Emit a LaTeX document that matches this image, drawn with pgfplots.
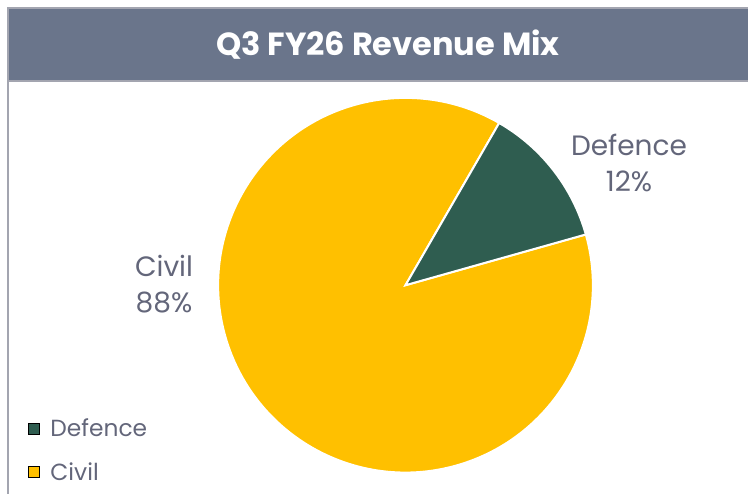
\documentclass[border=0pt]{standalone}
\usepackage{fontspec}
\setmainfont{Poppins}
\usepackage{pgfplots}
\usepackage{pgfplotstable}
\pgfplotsset{compat=1.18}

\definecolor{titlebg}{HTML}{6A758B}
\definecolor{framegray}{HTML}{A3A5B0}
\definecolor{defgreen}{HTML}{2F5D50}
\definecolor{civilyellow}{HTML}{FFC000}
\definecolor{labelgray}{HTML}{63667A}

% revenue share, percent
\pgfplotstableread{
label   value
Defence 12.3
Civil   87.7
}\piedata

\begin{document}
\begin{tikzpicture}
\pgfplotstablegetelem{0}{value}\of\piedata \let\vDef\pgfplotsretval
\pgfplotstablegetelem{1}{value}\of\piedata \let\vCiv\pgfplotsretval
% first slice starts at 60 deg and runs clockwise
\pgfmathsetmacro\aStart{60}
\pgfmathsetmacro\aMid{\aStart-3.6*\vDef}
\pgfmathsetmacro\aEnd{\aMid-3.6*\vCiv}
\def\R{140.5pt}
\begin{axis}[
    name=ax,
    width=561pt, height=370.5pt, scale only axis,
    xmin=0, xmax=748, ymin=0, ymax=494, y dir=reverse,
    hide axis, clip=false,
    legend style={at={(axis cs:24,413)}, anchor=north west, draw=none, fill=none,
        font=\fontsize{17.5}{20}\selectfont, text=labelgray, row sep=14pt,
        nodes={inner xsep=3pt}},
    legend cell align=left,
    legend image code/.code={\fill[#1] (0pt,-4pt) rectangle (8.25pt,4.25pt);},
]
% title bar and frame
\fill[titlebg] (axis cs:8,8) rectangle (axis cs:748,81);
\draw[framegray, line width=1.2pt] (axis cs:748,8) -- (axis cs:8,8) -- (axis cs:8,494);
\draw[framegray, line width=1pt] (axis cs:8,81) -- (axis cs:748,81);
\node[text=white, font=\fontsize{24}{28}\selectfont\bfseries] at (axis cs:388,45) {Q3 FY26 Revenue Mix};

% pie
\fill[civilyellow, draw=white, line width=1.5pt] (axis cs:405.5,285.2) -- ++(\aMid:\R)
    arc[start angle=\aMid, end angle=\aEnd, radius=\R] -- cycle;
\fill[defgreen, draw=white, line width=1.5pt] (axis cs:405.5,285.2) -- ++(\aStart:\R)
    arc[start angle=\aStart, end angle=\aMid, radius=\R] -- cycle;

% data labels
\node[align=center, text=labelgray, font=\fontsize{21}{27}\selectfont] at (axis cs:629,163) {Defence\\12\%};
\node[align=center, text=labelgray, font=\fontsize{21}{27}\selectfont] at (axis cs:164,284) {Civil\\88\%};

\addlegendimage{fill=defgreen}
\addlegendentry{\hspace{5pt}Defence}
\addlegendimage{fill=civilyellow}
\addlegendentry{\hspace{5pt}Civil}
\end{axis}
\pgfresetboundingbox
\path[use as bounding box] (ax.south west) rectangle (ax.north east);
\end{tikzpicture}
\end{document}
